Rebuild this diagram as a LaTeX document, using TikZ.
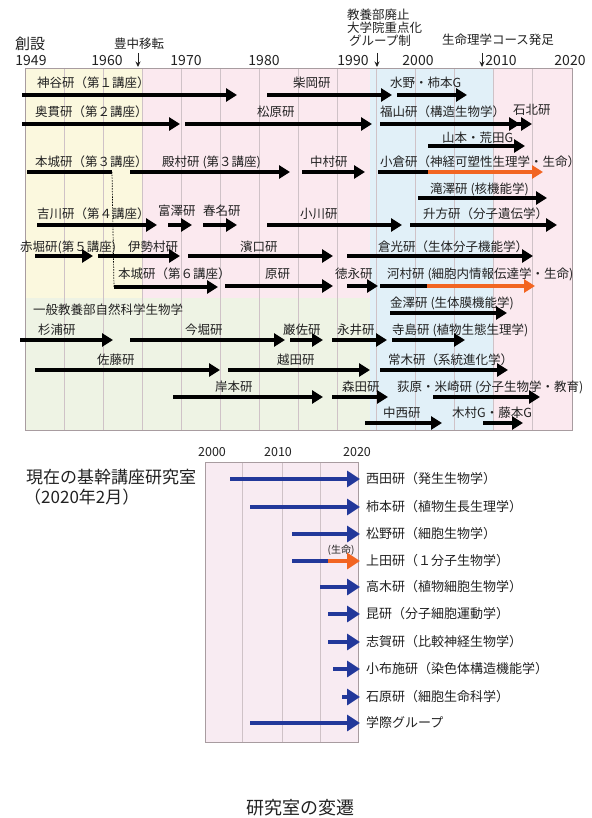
\documentclass[tikz,border=0pt]{standalone}
\usepackage{fontspec}
\setmainfont{Noto Sans CJK JP}
\usetikzlibrary{arrows.meta}
\definecolor{bgyellow}{HTML}{FBF8DE}
\definecolor{bgpink}{HTML}{FBE9EF}
\definecolor{bgblue}{HTML}{E1F0F8}
\definecolor{bggreen}{HTML}{EEF3E4}
\definecolor{gridc}{HTML}{CFC2C7}
\definecolor{framec}{HTML}{A89CA0}
\definecolor{orng}{HTML}{F26522}
\definecolor{navy}{HTML}{22389A}
\definecolor{pinkb}{HTML}{F8EBF2}
\definecolor{txt}{HTML}{222222}
\newcommand\tlLab[4]{\node[lbl,anchor=west] (#1) at (#2,#3) {#4};}
\newcommand\tlBar[5][bar]{\coordinate (#2s) at (#3,#5); \coordinate (#2e) at (#4,#5); \draw[#1] (#2s) -- (#2e);}
\newcommand\tlBi[7]{\coordinate (#1s) at (#2,#5); \coordinate (#1m) at (#3,#5); \coordinate (#1e) at (#4,#5); \draw[#6] (#1s) -- (#1m); \draw[#7] (#1m) -- (#1e);}
\begin{document}
\begin{tikzpicture}[x=1pt,y=-1pt,
  lbl/.style={inner sep=0pt, font=\fontsize{12.5}{12.5}\selectfont, text=txt},
  blbl/.style={inner sep=0pt, font=\fontsize{13}{13}\selectfont, text=txt},
  yr/.style={inner sep=0pt, font=\fontsize{14}{14}\selectfont, text=txt},
  hd/.style={inner sep=0pt, font=\fontsize{12.5}{12.5}\selectfont, text=txt},
  bar/.style={line width=3.2pt, draw=black, -{Triangle[length=11pt,width=13pt]}},
  plain/.style={line width=3.2pt, draw=black},
  obar/.style={line width=3.2pt, draw=orng, -{Triangle[length=11pt,width=13pt]}},
  bbar/.style={line width=4.4pt, draw=navy, -{Triangle[length=13pt,width=16pt]}},
  bplain/.style={line width=4.4pt, draw=navy},
  bobar/.style={line width=4.4pt, draw=orng, -{Triangle[length=13pt,width=16pt]}},
  down/.style={line width=1pt, draw=txt, -{Stealth[length=5.5pt,width=5pt]}},
  grid line/.style={draw=gridc, line width=0.5pt},
]
\useasboundingbox (0,0) rectangle (591,818);
\fill[white] (0,0) rectangle (591,818);
% ---------- top chart background ----------
\fill[bgyellow] (25,68) rectangle (142,298);
\fill[bgpink] (142,68) rectangle (370,298);
\fill[bggreen] (25,298) rectangle (370,430);
\fill[bgblue] (370,68) rectangle (493,430);
\fill[bgpink] (493,68) rectangle (572,430);
\foreach \x in {64,103,142,181,220,259,298,337,376,415,454,493,532}
  \draw[grid line] (\x,68) -- (\x,430);
\draw[framec, line width=0.6pt] (25,68) rectangle (572,430);
% ---------- header ----------
\node[inner sep=0pt, font=\fontsize{15}{15}\selectfont, text=txt] (sosetsu) at (30,44) {創設};
\node[yr] (y1949) at (31,61) {1949};
\node[yr] (y1960) at (107,61) {1960};
\node[yr] (y1970) at (186,61) {1970};
\node[yr] (y1980) at (264,61) {1980};
\node[yr] (y1990) at (353,61) {1990};
\node[yr] (y2000) at (418,61) {2000};
\node[yr] (y2010) at (501,61) {2010};
\node[yr] (y2020) at (570,61) {2020};
\node[hd] (toyonaka) at (139,44) {豊中移転};
\coordinate (d1s) at (138,53); \coordinate (d1e) at (138,67);
\draw[down] (d1s) -- (d1e);
\node[hd,anchor=west] (kyo1) at (347,15) {教養部廃止};
\node[hd,anchor=west] (kyo2) at (347,28) {大学院重点化};
\node[hd,anchor=west] (kyo3) at (349,41) {グループ制};
\coordinate (d2s) at (377,53); \coordinate (d2e) at (377,67);
\draw[down] (d2s) -- (d2e);
\node[hd] (seimei) at (498,40) {生命理学コース発足};
\coordinate (d3s) at (482,53); \coordinate (d3e) at (482,67);
\draw[down] (d3s) -- (d3e);
% ---------- row 1 ----------
\tlLab{kamiya}{37}{83}{神谷研（第１講座）}
\tlLab{shibaoka}{293}{83}{柴岡研}
\tlLab{mizuno}{390}{83}{水野・柿本G}
\tlBar{a1}{22}{237}{95}
\tlBar{a2}{267}{392}{95}
\tlBar{a3}{397}{467}{95}
% ---------- row 2 ----------
\tlLab{okunuki}{35}{112}{奥貫研（第２講座）}
\tlLab{matsubara}{257}{112}{松原研}
\tlLab{fukuyama}{380}{112}{福山研（構造生物学）}
\tlLab{ishikita}{513}{110}{石北研}
\tlBar{b1}{22}{180}{124}
\tlBar{b2}{185}{372}{124}
\tlBar{b3}{380}{520}{124}
\tlBar{b4}{512}{532}{124}
% ---------- row yamamoto ----------
\tlLab{yamamoto}{442}{138}{山本・荒田G}
\tlBar{c1}{428}{525}{146}
% ---------- row 3 ----------
\tlLab{honjo3}{35}{162}{本城研（第３講座）}
\tlLab{tonomura}{162}{162}{殿村研 (第３講座)}
\tlLab{nakamura}{310}{162}{中村研}
\tlLab{ogura}{380}{162}{小倉研（神経可塑性生理学・生命）}
\coordinate (h1s) at (27,172); \coordinate (h1e) at (112,172);
\draw[plain] (h1s) -- (h1e);
\coordinate (h6) at (114,287);
\draw[black, line width=0.7pt, dash pattern=on 1.5pt off 1.2pt] (h1e) -- (h6);
\tlBar{e1}{130}{290}{172}
\tlBar{e2}{302}{365}{172}
\tlBi{e3}{378}{428}{543}{172}{plain}{obar}
% ---------- row takizawa ----------
\tlLab{takizawa}{430}{189}{滝澤研 (核機能学)}
\tlBar{f1}{418}{547}{198}
% ---------- row 4 ----------
\tlLab{yoshikawa}{37}{214}{吉川研（第４講座）}
\tlLab{tomizawa}{158}{211}{富澤研}
\tlLab{haruna}{203}{211}{春名研}
\tlLab{ogawa}{300}{214}{小川研}
\tlLab{masukata}{423}{214}{升方研（分子遺伝学）}
\tlBar{g1}{37}{157}{225}
\tlBar{g2}{168}{192}{225}
\tlBar{g3}{203}{237}{225}
\tlBar{g4}{267}{402}{225}
\tlBar{g5}{410}{557}{225}
% ---------- row 5 ----------
\tlLab{akabori}{20}{247}{赤堀研(第５講座)}
\tlLab{isemura}{128}{247}{伊勢村研}
\tlLab{hamaguchi}{240}{247}{濱口研}
\tlLab{kuramitsu}{378}{247}{倉光研（生体分子機能学）}
\tlBar{k1}{35}{93}{256}
\tlBar{k2}{98}{180}{256}
\tlBar{k3}{188}{333}{256}
\tlBar{k4}{347}{533}{256}
% ---------- row 6 ----------
\tlLab{honjo6}{118}{274}{本城研（第６講座）}
\tlLab{hara}{265}{274}{原研}
\tlLab{tokunaga}{335}{274}{徳永研}
\tlLab{kawamura}{387}{274}{河村研 (細胞内情報伝達学・生命)}
\coordinate (m1e) at (218,287);
\draw[bar] (h6) -- (m1e);
\tlBar{m2}{225}{333}{286}
\tlBar{m3}{347}{378}{286}
\tlBi{m4}{380}{427}{535}{286}{plain}{obar}
% ---------- row kanazawa ----------
\tlLab{kanazawa}{390}{303}{金澤研 (生体膜機能学)}
\tlLab{ippan}{33}{310}{一般教養部自然科学生物学}
\tlBar{n1}{390}{507}{313}
% ---------- row sugiura ----------
\tlLab{sugiura}{38}{330}{杉浦研}
\tlLab{imahori}{185}{330}{今堀研}
\tlLab{iwasa}{283}{330}{巌佐研}
\tlLab{nagai}{337}{330}{永井研}
\tlLab{terashima}{392}{330}{寺島研 (植物生態生理学)}
\tlBar{p1}{20}{113}{340}
\tlBar{p2}{130}{285}{340}
\tlBar{p3}{290}{323}{340}
\tlBar{p4}{332}{387}{340}
\tlBar{p5}{392}{465}{340}
% ---------- row sato ----------
\tlLab{sato}{97}{360}{佐藤研}
\tlLab{koshida}{277}{360}{越田研}
\tlLab{tsuneki}{388}{360}{常木研（系統進化学）}
\tlBar{q1}{35}{220}{370}
\tlBar{q2}{228}{370}{370}
\tlBar{q3}{380}{508}{370}
% ---------- row kishimoto ----------
\tlLab{kishimoto}{215}{387}{岸本研}
\tlLab{morita}{342}{387}{森田研}
\tlLab{ogiwara}{397}{387}{荻原・米崎研 (分子生物学・教育)}
\tlBar{r1}{173}{323}{397}
\tlBar{r2}{332}{388}{397}
\tlBar{r3}{433}{540}{397}
% ---------- row nakanishi ----------
\tlLab{nakanishi}{383}{413}{中西研}
\tlLab{kimura}{452}{413}{木村G・藤本G}
\tlBar{s1}{365}{442}{423}
\tlBar{s2}{483}{523}{423}
% ---------- bottom chart ----------
\fill[pinkb] (205,462) rectangle (358,742);
\foreach \x in {242,282,320} \draw[grid line] (\x,462) -- (\x,742);
\draw[framec, line width=0.6pt] (205,462) rectangle (358,742);
\node[yr, font=\fontsize{12.5}{12.5}\selectfont] (b2000) at (212,452) {2000};
\node[yr, font=\fontsize{12.5}{12.5}\selectfont] (b2010) at (278,452) {2010};
\node[yr, font=\fontsize{12.5}{12.5}\selectfont] (b2020) at (357,452) {2020};
\node[inner sep=0pt, anchor=west, font=\fontsize{17}{17}\selectfont, text=txt] (genzai) at (26,477) {現在の基幹講座研究室};
\node[inner sep=0pt, anchor=west, font=\fontsize{17}{17}\selectfont, text=txt] (date) at (24,497) {（2020年2月）};
\tlBar[bbar]{u1}{230}{360}{479}
\tlBar[bbar]{u2}{250}{360}{507}
\tlBar[bbar]{u3}{292}{360}{534}
\tlBi{u4}{292}{328}{360}{561}{bplain}{bobar}
\tlBar[bbar]{u5}{320}{360}{587}
\tlBar[bbar]{u6}{328}{360}{614}
\tlBar[bbar]{u7}{328}{360}{642}
\tlBar[bbar]{u8}{333}{360}{669}
\tlBar[bbar]{u9}{342}{360}{697}
\tlBar[bbar]{u10}{250}{360}{723}
\node[inner sep=0pt, font=\fontsize{10}{10}\selectfont, text=txt] (seimeiS) at (341,550) {(生命)};
\node[blbl,anchor=west] (nishida) at (366,479) {西田研（発生生物学）};
\node[blbl,anchor=west] (kakimoto) at (366,507) {柿本研（植物生長生理学）};
\node[blbl,anchor=west] (matsuno) at (366,534) {松野研（細胞生物学）};
\node[blbl,anchor=west] (ueda) at (366,561) {上田研（１分子生物学）};
\node[blbl,anchor=west] (takagi) at (366,587) {高木研（植物細胞生物学）};
\node[blbl,anchor=west] (kon) at (366,614) {昆研（分子細胞運動学）};
\node[blbl,anchor=west] (shiga) at (366,642) {志賀研（比較神経生物学）};
\node[blbl,anchor=west] (obuse) at (366,669) {小布施研（染色体構造機能学）};
\node[blbl,anchor=west] (ishihara) at (366,697) {石原研（細胞生命科学）};
\node[blbl,anchor=west] (gakusai) at (366,723) {学際グループ};
% ---------- caption ----------
\node[inner sep=0pt, font=\fontsize{18}{18}\selectfont, text=txt] (caption) at (300,808) {研究室の変遷};
\end{tikzpicture}
\end{document}
